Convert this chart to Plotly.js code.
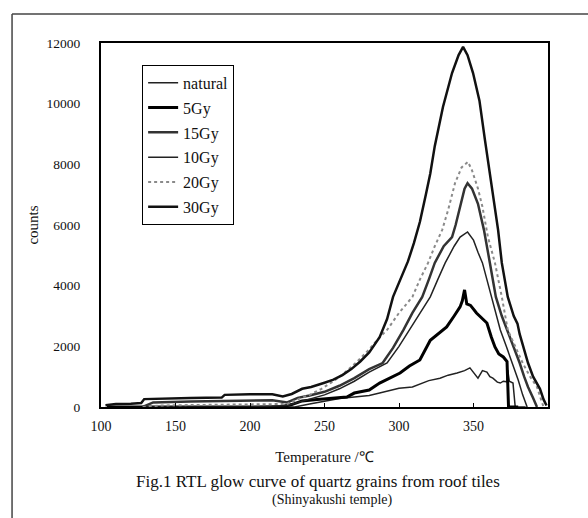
<!DOCTYPE html>
<html>
<head>
<meta charset="utf-8">
<script src="https://cdn.plot.ly/plotly-3.0.1.min.js"></script>
<style>html,body{margin:0;padding:0;background:#fff;}#chart{width:588px;height:518px;}</style>
</head>
<body>
<div id="chart"></div>
<script>
// Series names (legend order)
const seriesNames = ["natural", "5Gy", "15Gy", "10Gy", "20Gy", "30Gy"];

// Temperature (°C) and counts for each series
const naturalT = [104,230,240,250,260,270,280,287,295,300,309,315,320,327.5,333,339,344,347.6,350,353,356,359,361,363,366,368,370,372.5,373,374,376.5,378,385];
const naturalC = [0,0,100,200,280,330,380,460,550,620,660,780,870,950,1050,1120,1200,1290,1150,950,1200,1150,1000,950,820,790,850,830,1220,850,790,0,0];

const gy5T = [104,220,228,235,245,255,265,270,275,280,287,294,300.7,307,314,321,326,332,337,341,342.5,344,345.5,348,352,356,359,362,364.4,367,370,372.5,373.5,380];
const gy5C = [0,0,80,200,250,300,330,460,500,560,790,950,1120,1350,1550,2200,2400,2640,3000,3300,3500,3860,3400,3350,3100,2900,2770,2300,1980,1750,1650,1500,0,0];

const gy15T = [128,135,160,190,194,215,225,232,240,250,260,270,280,289,296,303,309,315.6,320,324,330,335.6,338,341,344,346,349,353,357,361,365,369,372.5,377,381,384,386.6,390,392.6];
const gy15C = [0,150,180,200,220,220,150,300,380,500,700,950,1250,1450,1950,2540,3100,3630,4200,4750,5300,5600,6000,6600,7200,7380,7200,6700,5840,4750,3630,3000,2540,2000,1450,1000,660,300,0];

const gy10T = [130,200,225,232,240,250,260,270,280,292,300,307,314,321,326,331,337,341,346,350,353,356,359,362,365,368,372,376,378,380,383,386];
const gy10C = [0,0,50,150,250,400,600,850,1150,1450,2000,2540,3100,3630,4200,4750,5300,5600,5770,5500,5100,4750,4200,3630,3100,2540,2000,1450,1200,890,400,0];

const gy20T = [128,140,170,200,225,232,240,248,256,264,272,280,287,292,300,309,314,319.5,324,329,333,337.6,342,346.3,349,353,356,359.7,364.4,369,373,378,383,388,392.6,395,397];
const gy20C = [0,50,70,80,100,250,400,600,850,1150,1500,1900,2300,2540,3100,3630,4200,4750,5300,5840,6500,7380,7900,8080,7800,7200,6600,5600,4750,3630,2540,2000,1450,1000,660,300,0];

const gy30T = [103,110,120,127,129,140,160,181,183,200,215,222,228,235,241,250,256,262,268,274,280,287,292,296,301,306,310,314,318,321,324,329.5,335.6,340,343,346,349.7,354,357.7,361,364.4,366.5,369,373,377,379.5,381,384,386.6,390,394.6,397,399];
const gy30C = [60,100,110,130,260,280,300,310,400,420,420,350,430,600,660,800,900,1050,1250,1500,1800,2300,2900,3630,4200,4800,5400,6100,7000,7700,8600,9890,11010,11600,11870,11600,11010,10100,8800,7710,6600,5840,4750,3630,3000,2750,2400,1900,1450,1000,600,250,50];

// Axis tick values
const xTicks = [100,150,200,250,300,350];
const yTicks = [0,2000,4000,6000,8000,10000,12000];

const serif = "Liberation Serif, Times New Roman, serif";
const xs = [naturalT, gy5T, gy15T, gy10T, gy20T, gy30T];
const ys = [naturalC, gy5C, gy15C, gy10C, gy20C, gy30C];
const styles = [
  {color:"#222", width:1.5, dash:"solid"},
  {color:"#000", width:3, dash:"solid"},
  {color:"#333", width:2.5, dash:"solid"},
  {color:"#222", width:1.5, dash:"solid"},
  {color:"#8a8a8a", width:2, dash:"dot"},
  {color:"#111", width:2.5, dash:"solid"}
];

const traces = seriesNames.map((n, i) => ({
  x: xs[i], y: ys[i], name: n, type: "scatter", mode: "lines",
  legendgroup: "g" + i, line: styles[i]
}));

const layout = {
  width: 588, height: 518,
  margin: {l: 101, r: 40, t: 43, b: 111},
  paper_bgcolor: "#fff", plot_bgcolor: "#fff",
  showlegend: true,
  font: {family: serif, color: "#111"},
  xaxis: {
    range: [100, 400], tickvals: xTicks, ticktext: xTicks.map(String),
    showline: true, mirror: true, linewidth: 2, linecolor: "#000",
    ticks: "inside", ticklen: 4, tickcolor: "#000", ticklabelstandoff: 5,
    showgrid: false, zeroline: false,
    tickfont: {family: serif, size: 14, color: "#111"},
    title: {text: "Temperature /℃", font: {family: serif, size: 15, color: "#111"}, standoff: 19}
  },
  yaxis: {
    range: [0, 12000], tickvals: yTicks, ticktext: yTicks.map(String),
    showline: true, mirror: true, linewidth: 2, linecolor: "#000",
    ticks: "", showgrid: false, zeroline: false, ticklabelstandoff: 16,
    tickfont: {family: serif, size: 13.5, color: "#111"},
    title: {text: "counts", font: {family: serif, size: 15, color: "#111"}, standoff: 4}
  },
  legend: {
    x: 0.092, y: 0.94, xanchor: "left", yanchor: "top",
    bordercolor: "#000", borderwidth: 1, bgcolor: "#fff",
    font: {family: serif, size: 16, color: "#111"},
    tracegroupgap: 1, traceorder: "grouped", itemwidth: 30
  },
  annotations: [
    {xref: "paper", yref: "paper", x: 0.4855, y: -0.206, xanchor: "center", yanchor: "middle",
     showarrow: false, text: "Fig.1 RTL glow curve of quartz grains from roof tiles",
     font: {family: serif, size: 17, color: "#111"}},
    {xref: "paper", yref: "paper", x: 0.517, y: -0.2555, xanchor: "center", yanchor: "middle",
     showarrow: false, text: "(Shinyakushi temple)",
     font: {family: serif, size: 14, color: "#111"}}
  ],
  shapes: [
    {type: "line", xref: "paper", yref: "paper", x0: -0.199, x1: 1.09, y0: 1.08, y1: 1.08, line: {color: "#444", width: 1.5}},
    {type: "line", xref: "paper", yref: "paper", x0: -0.199, x1: -0.199, y0: 1.08, y1: -0.31, line: {color: "#444", width: 1.5}}
  ]
};

Plotly.newPlot("chart", traces, layout, {displayModeBar: false, staticPlot: true});
</script>
</body>
</html>
